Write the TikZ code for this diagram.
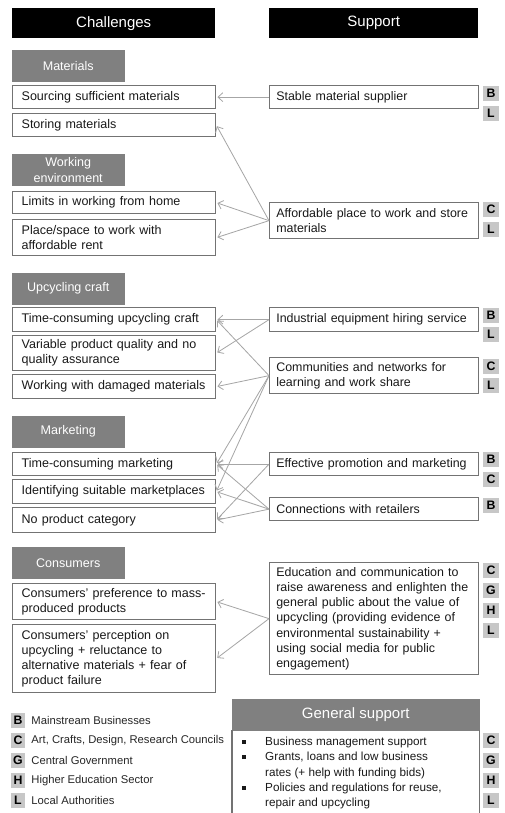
\documentclass[tikz,border=0pt]{standalone}
\usepackage{fontspec}
\setmainfont{Liberation Sans}
\usetikzlibrary{positioning, calc, arrows.meta}

\begin{document}
\begin{tikzpicture}[x = 0.03cm, y = -0.03cm]
\useasboundingbox (0, 0) rectangle (505, 813);
\begin{scope}[
	colhead/.style={
		fill=black, text=white, anchor=north west, inner sep=0pt,
		minimum height=0.9cm, font=\fontsize{12.8}{15}\selectfont
	},
	grouphead/.style={
		fill=black!50, draw=black!50, text=white, anchor=north west, inner sep=0pt,
		minimum width=3.36cm, minimum height=0.93cm, align=center,
		font=\fontsize{10.7}{13.3}\selectfont
	},
	chalbox/.style={
		draw=black!55, line width=1.1pt, anchor=north west, align=left,
		text width=5.55cm, inner xsep=0.27cm, inner ysep=0pt, text=black!90,
		font=\fontsize{10.7}{12.9}\selectfont
	},
	suppbox/.style={chalbox, text width=5.87cm, inner xsep=0.2cm, font=\fontsize{10.6}{13}\selectfont},
	badge/.style={
		fill=black!22, minimum width=0.48cm, minimum height=0.45cm, inner sep=0pt,
		font=\bfseries\fontsize{10.5}{12}\selectfont
	},
	keytext/.style={inner sep=0pt, text=black!85, font=\fontsize{9.6}{11}\selectfont},
	link/.style={
		draw=black!35, line width=0.7pt, shorten >=1pt,
		-{Straight Barb[length=4pt, width=7.5pt]}
	}
]
\node[colhead, minimum width=6.09cm] (challenges) at (12, 8) {Challenges};
\node[colhead, minimum width=6.27cm] (support) at (269, 8) {Support};
\foreach \nm/\y/\txt in {materials/50/Materials, environment/154/{Working\\environment}, craftgroup/273/Upcycling craft, marketing/416/Marketing, consumers/547/Consumers}
	\node[grouphead] (\nm) at (12, \y) {\txt};
\foreach \nm/\y/\h/\txt in {
	source/85/23/{Sourcing sufficient materials},
	store/113/23/{Storing materials},
	home/191/22/{Limits in working from home},
	rent/219/36/{Place/space to work with\\affordable rent},
	craft/307/24/{Time-consuming upcycling craft},
	quality/335/35/{Variable product quality and no\\quality assurance},
	damaged/374/24/{Working with damaged materials},
	market/452/23/{Time-consuming marketing},
	places/479/24/{Identifying suitable marketplaces},
	category/507/25/{No product category},
	massprod/583/36/{Consumers' preference to mass-\\produced products},
	perception/624/68/{Consumers' perception on\\upcycling + reluctance to\\alternative materials + fear of\\product failure}} {
	\node[chalbox, minimum height=\h*0.03cm] (\nm) at (12, \y) {\txt};
}
\foreach \nm/\y/\h/\txt in {
	supplier/85/23/{Stable material supplier},
	workspace/202/36/{Affordable place to work and store\\materials},
	hiring/307/24/{Industrial equipment hiring service},
	network/357/36/{Communities and networks for\\learning and work share},
	promotion/452/23/{Effective promotion and marketing},
	retailers/497/23/{Connections with retailers},
	education/562/112/{Education and communication to\\raise awareness and enlighten the\\general public about the value of\\upcycling (providing evidence of\\environmental sustainability +\\using social media for public\\engagement)}} {
	\node[suppbox, minimum height=\h*0.03cm] (\nm) at (269, \y) {\txt};
}
\foreach \y/\l [count=\i] in {93/B, 113.5/L, 209.5/C, 229.5/L, 315/B, 334/L, 366/C, 385/L, 459/B, 479/C, 505/B, 570.5/C, 590.5/G, 610.5/H, 630.5/L, 740/C, 760/G, 780/H, 800/L}
	\node[badge] (badge-\i) at (491, \y) {\l};
\foreach \from/\to in {supplier/source, workspace/store, workspace/home, workspace/rent, hiring/craft, hiring/quality, network/craft, network/damaged, network/market, network/places, promotion/market, promotion/category, retailers/market, retailers/places, retailers/category, education/massprod, education/perception}
	\draw[link] (\from.west) -- (\to.east);
\foreach \y/\l/\txt in {720.5/B/Mainstream Businesses, 740.5/C/{Art, Crafts, Design, Research Councils}, 760.5/G/Central Government, 780.5/H/Higher Education Sector, 800.5/L/Local Authorities} {
	\node[badge, minimum width=0.42cm] (key-\l) at (18, \y) {\l};
	\node[keytext, right=0.18cm of key-\l] (key-\l-text) {\txt};
}
\node[grouphead, minimum width=7.41cm, font=\fontsize{12.8}{15}\selectfont] (general) at (232, 699) {General support};
\draw[draw=black!55, line width=1.1pt] (general.south west) -- ++(0, 83);
\draw[draw=black!55, line width=1.1pt] (general.south east) -- ++(0, 83);
\node[anchor=north west, inner sep=0pt, align=left, text=black!90, font=\fontsize{10}{13}\selectfont] (general-list) at (241.5, 737) {%
	\makebox[0.705cm][l]{\raisebox{1.5pt}{\rule{3.5pt}{3.5pt}}}Business management support\\
	\makebox[0.705cm][l]{\raisebox{1.5pt}{\rule{3.5pt}{3.5pt}}}Grants, loans and low business\\
	\hspace*{0.705cm}rates (+ help with funding bids)\\
	\makebox[0.705cm][l]{\raisebox{1.5pt}{\rule{3.5pt}{3.5pt}}}Policies and regulations for reuse,\\
	\hspace*{0.705cm}repair and upcycling};
\end{scope}
\end{tikzpicture}
\end{document}
